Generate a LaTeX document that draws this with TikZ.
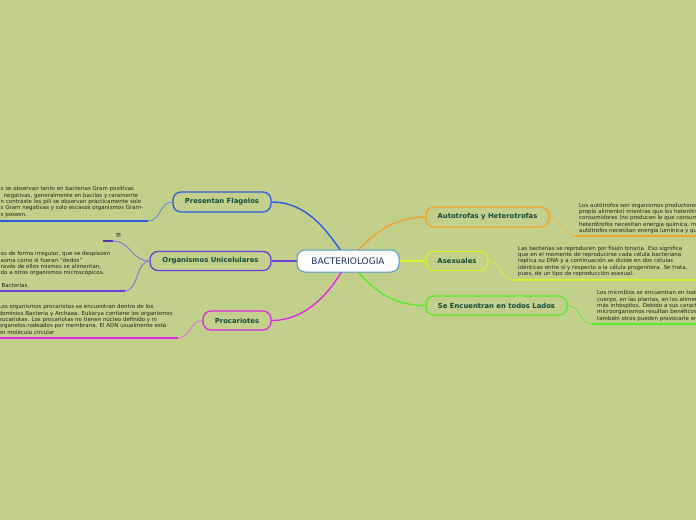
\documentclass[tikz,border=0pt]{standalone}
\usepackage{fontspec}
\setmainfont{DejaVu Sans}
\definecolor{bgc}{HTML}{C3D08C}
\definecolor{cblue}{HTML}{285AE6}
\definecolor{cblueS}{HTML}{648CD2}
\definecolor{cpurp}{HTML}{6E3CDC}
\definecolor{cpurpD}{HTML}{5A32C0}
\definecolor{cpurpS}{HTML}{8C6ED2}
\definecolor{cmag}{HTML}{E128E1}
\definecolor{cmagS}{HTML}{DC6EDC}
\definecolor{corange}{HTML}{F0A528}
\definecolor{corangeS}{HTML}{F0B446}
\definecolor{cyel}{HTML}{DCF028}
\definecolor{cyelS}{HTML}{D7EB46}
\definecolor{cgreen}{HTML}{5AEB28}
\definecolor{cgreenS}{HTML}{6EE646}
\definecolor{rootb}{HTML}{5096D2}
\definecolor{navy}{HTML}{1E325A}
\definecolor{lblc}{HTML}{144B3C}
\definecolor{descc}{HTML}{22241A}
\pgfdeclarelayer{bgl}
\pgfdeclarelayer{lines}
\pgfsetlayers{bgl,lines,main}
\begin{document}
\begin{tikzpicture}[x=1pt,y=-1pt,
  lbl/.style={draw, rounded corners=8pt, line width=1.3pt, font=\fontsize{6.85}{8}\selectfont\bfseries, text=lblc, inner sep=0pt},
  desc/.style={font=\fontsize{5.5}{6.35}\selectfont, text=descc, align=left, inner sep=0pt, anchor=north west},
  uline/.style={line width=2pt},
  subc/.style={line width=0.9pt},
  mainc/.style={line width=1.4pt}]
\useasboundingbox (0,0) rectangle (696,520);
\begin{pgfonlayer}{bgl}
\fill[bgc] (0,0) rectangle (696,520);
\end{pgfonlayer}

% nodes
\node[draw=rootb, fill=white, rounded corners=8pt, line width=1pt, minimum width=102pt, minimum height=22pt, inner sep=0pt, font=\fontsize{9}{10}\selectfont, text=navy] (root) at (348,261) {BACTERIOLOGIA};
\node[lbl, draw=cblue, minimum width=98pt, minimum height=20pt] (flag) at (222,202) {Presentan Flagelos};
\node[lbl, draw=cpurp, minimum width=121pt, minimum height=19pt] (org) at (210.5,261) {Organismos Unicelulares};
\node[lbl, draw=cmag, minimum width=68pt, minimum height=19pt] (proc) at (237,320.5) {Procariotes};
\node[lbl, draw=corange, minimum width=123pt, minimum height=20pt] (aut) at (487.5,217) {Autotrofas y Heterotrofas};
\node[lbl, draw=cyel, minimum width=62pt, minimum height=19pt] (asex) at (457,261) {Asexuales};
\node[lbl, draw=cgreen, minimum width=141pt, minimum height=19pt] (todo) at (496.5,305.5) {Se Encuentran en todos Lados};

% text blocks
\node[desc] (t1) at (0.5,186.5) {s se observan tanto en bacterias Gram positivas\\
\hspace{3pt}negativas, generalmente en bacilos y raramente\\
n contraste los pili se observan prácticamente solo\\
s Gram negativas y solo escasos organismos Gram-\\
s poseen.};
\node[desc] (t2) at (0.5,251.5) {os de forma irregular, que se desplazan\\
asma como si fueran "dedos"\\
ravés de ellos mismos se alimentan,\\
do a otros organismos microscópicos.\\[6.35pt]
\hspace{1pt}Bacterias.};
\node[desc] (t3) at (-1.5,304.5) {Los organismos procariotas se encuentran dentro de los\\
dominios Bacteria y Archaea. Eukarya contiene los organismos\\
eucariotas. Los procariotas no tienen núcleo definido y ni\\
organelos rodeados por membrana. El ADN usualmente está\\
en molécula circular};
\node[desc] (t4) at (579,202.5) {Los autótrofos son organismos productores\\
propio alimento) mientras que los heterótrofos\\
consumidores (no producen lo que consumen\\
heterótrofos necesitan energía química, mientras\\
autótrofos necesitan energía lumínica y química};
\node[desc] (t5) at (518,245.5) {Las bacterias se reproducen por fisión binaria. Eso significa\\
que en el momento de reproducirse cada célula bacteriana\\
replica su DNA y a continuación se divide en dos células\\
idénticas entre sí y respecto a la célula progenitora. Se trata,\\
pues, de un tipo de reproducción asexual.};
\node[desc] (t6) at (597,290.5) {Los microbios se encuentran en todos\\
cuerpo, en las plantas, en los alimentos\\
más inhóspitos. Debido a sus características\\
microorganismos resultan benéficos\\
también otros pueden provocarle enfermedades};
\node[font=\fontsize{7}{8}\selectfont, text=descc, inner sep=0pt] (note) at (118.5,235.5) {≡};

% coordinates for underlines
\coordinate (u1s) at (-3,221); \coordinate (u1e) at (148,221);
\coordinate (u2s) at (103,241); \coordinate (u2e) at (113,241);
\coordinate (u3s) at (-3,291); \coordinate (u3e) at (125,291);
\coordinate (u4s) at (-3,338); \coordinate (u4e) at (178,338);
\coordinate (u5s) at (575,236); \coordinate (u5e) at (700,236);
\coordinate (u6s) at (513,280); \coordinate (u6e) at (700,280);
\coordinate (u7s) at (592,324); \coordinate (u7e) at (700,324);

\begin{pgfonlayer}{lines}
\draw[mainc, cblue] (root.center) .. controls +(-16,-22) and +(40,0) .. (flag.east);
\draw[mainc, corange] (root.center) .. controls +(18,-18) and +(-40,0) .. (aut.west);
\draw[mainc, cmag] (root.center) .. controls +(-12,22) and +(40,0) .. (proc.east);
\draw[mainc, cgreen] (root.center) .. controls +(20,22) and +(-40,0) .. (todo.west);
\draw[mainc, cpurp] (root.center) -- (org.east);
\draw[mainc, cyel] (root.center) -- (asex.west);

\draw[uline, cblue] (u1s) -- (u1e);
\draw[subc, cblueS] (u1e) .. controls +(13,0) and +(-13,0) .. (flag.west);
\draw[uline, cpurpD] (u2s) -- (u2e);
\draw[subc, cpurpS] (u2e) .. controls +(18,0) and +(-18,0) .. (org.west);
\draw[uline, cpurp] (u3s) -- (u3e);
\draw[subc, cpurpS] (u3e) .. controls +(13,0) and +(-13,0) .. (org.west);
\draw[uline, cmag] (u4s) -- (u4e);
\draw[subc, cmagS] (u4e) .. controls +(13,0) and +(-13,0) .. (proc.west);
\draw[uline, corange] (u5s) -- (u5e);
\draw[subc, corangeS] (aut.east) .. controls +(13,0) and +(-13,0) .. (u5s);
\draw[uline, cyel] (u6s) -- (u6e);
\draw[subc, cyelS] (asex.east) .. controls +(13,0) and +(-13,0) .. (u6s);
\draw[uline, cgreen] (u7s) -- (u7e);
\draw[subc, cgreenS] (todo.east) .. controls +(13,0) and +(-13,0) .. (u7s);
\end{pgfonlayer}
\end{tikzpicture}
\end{document}
